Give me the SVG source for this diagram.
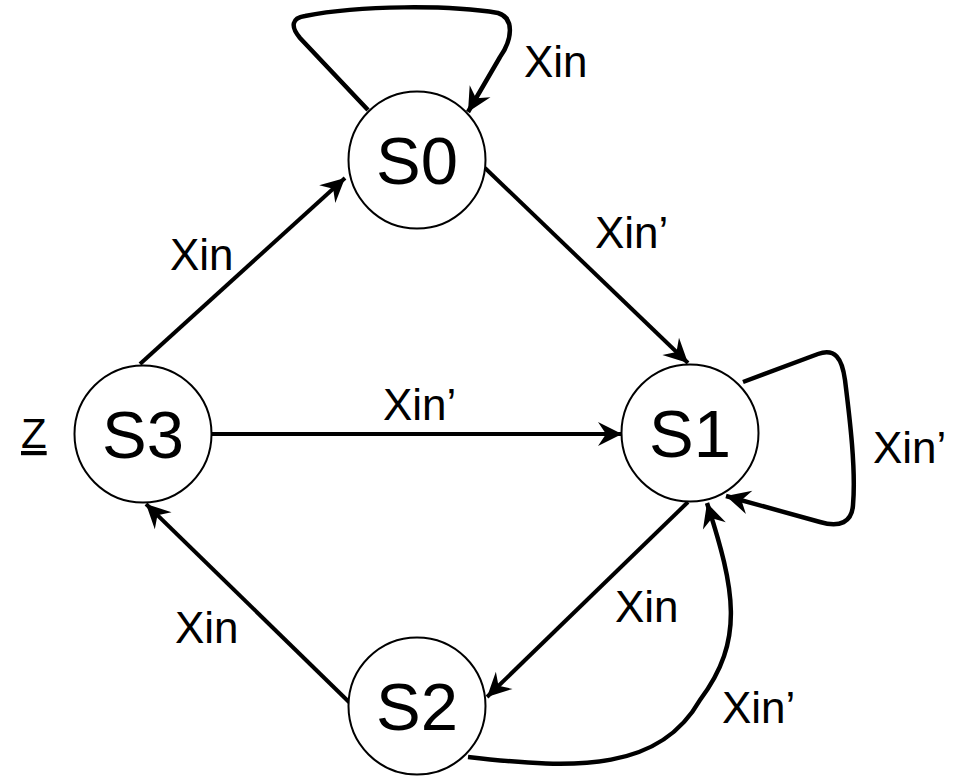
<svg xmlns="http://www.w3.org/2000/svg" width="964" height="776" viewBox="0 0 964 776">
<style>
.node{fill:#fff;stroke:#000;stroke-width:2}
.nl{font-family:"Liberation Sans",Arial,sans-serif;font-size:67px;fill:#000;text-anchor:middle}
.el{font-family:"Liberation Sans",Arial,sans-serif;font-size:44px;fill:#000}
.edge{fill:none;stroke:#000;stroke-width:4;marker-end:url(#arr)}
.curve{stroke-width:4.5}
</style>
<defs>
<marker id="arr" markerUnits="userSpaceOnUse" viewBox="-26 -14 28 28" markerWidth="28" markerHeight="28" refX="0" refY="0" orient="auto">
<path d="M0,0 L-24,-12 L-16,0 L-24,12 Z" fill="#000"/>
</marker>
</defs>
<rect width="964" height="776" fill="#fff"/>
<g id="connectors">
<path class="edge" d="M140,364 L345,178"/>
<path class="edge" d="M485,168 L688,363"/>
<path class="edge" d="M212,434 L622,434"/>
<path class="edge" d="M688,502 L487,697"/>
<path class="edge" d="M350,703 L146,504"/>
<path class="edge curve" d="M468,757 C580,770 660,770 700,700 C745,640 735,590 707,503"/>
<path class="edge curve" d="M368,110 L300,38 C290,26 292,18 305,16 C360,5 450,5 498,13 C515,18 512,40 500,57 L468,112"/>
<path class="edge curve" d="M743,382 L818,354 C835,348 842,358 845,380 C850,420 856,470 853,505 C852,522 840,528 820,522 L726,496"/>
</g>
<g id="labels">
<text class="el" x="524" y="77">Xin</text>
<text class="el" x="595" y="248">Xin’</text>
<text class="el" x="170" y="270">Xin</text>
<text class="el" x="383" y="420">Xin’</text>
<text class="el" x="873" y="463">Xin’</text>
<text class="el" x="615" y="622">Xin</text>
<text class="el" x="175" y="643">Xin</text>
<text class="el" x="722" y="723">Xin’</text>
</g>
<g id="S0"><circle class="node" cx="417" cy="160" r="68.5"/><text class="nl" x="417" y="184">S0</text></g>
<g id="S1"><circle class="node" cx="690" cy="433" r="68.5"/><text class="nl" x="690" y="457">S1</text></g>
<g id="S2"><circle class="node" cx="417" cy="706" r="68.5"/><text class="nl" x="417" y="730">S2</text></g>
<g id="S3"><circle class="node" cx="143" cy="434" r="68.5"/><text class="nl" x="143" y="458">S3</text>
<text class="el" x="21" y="448" text-decoration="underline" style="font-size:42px">Z</text></g>
</svg>
